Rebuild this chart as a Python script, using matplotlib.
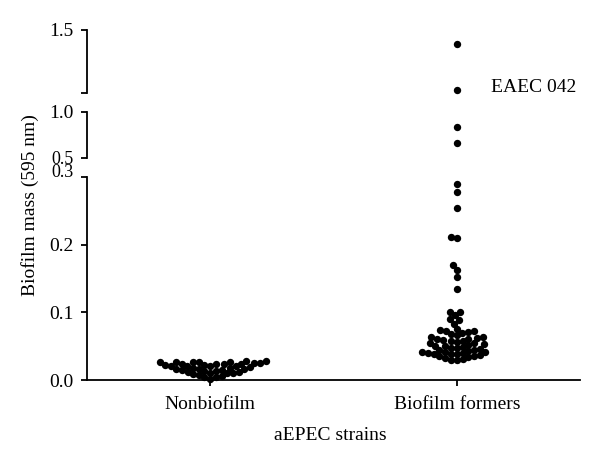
#!/usr/bin/env python3
"""Biofilm mass of aEPEC strains, dot plot on a broken y axis."""

import matplotlib
matplotlib.use("Agg")
import matplotlib.pyplot as plt
import numpy as np

plt.rcParams["font.family"] = ["Liberation Serif", "DejaVu Serif"]
plt.rcParams["font.size"] = 14

CATEGORIES = ["Nonbiofilm", "Biofilm formers"]
NONBIOFILM = [
    0.0015, 0.004, 0.005, 0.006, 0.008, 0.009, 0.010, 0.010, 0.011, 0.012,
    0.012, 0.013, 0.014, 0.015, 0.015, 0.016, 0.016, 0.017, 0.018, 0.018,
    0.019, 0.020, 0.020, 0.021, 0.021, 0.022, 0.022, 0.023, 0.023, 0.024,
    0.024, 0.025, 0.025, 0.026, 0.026, 0.026, 0.027, 0.027, 0.028, 0.028,
]
BIOFILM_FORMERS = [
    0.029, 0.030, 0.031, 0.033, 0.034, 0.035, 0.036, 0.037, 0.038, 0.039,
    0.039, 0.040, 0.040, 0.041, 0.042, 0.042, 0.043, 0.044, 0.045, 0.046,
    0.047, 0.048, 0.049, 0.050, 0.051, 0.052, 0.053, 0.054, 0.055, 0.056,
    0.057, 0.058, 0.059, 0.060, 0.061, 0.062, 0.063, 0.064, 0.066, 0.068,
    0.070, 0.071, 0.072, 0.073, 0.074, 0.075, 0.083, 0.089, 0.090, 0.096,
    0.100, 0.101, 0.134, 0.152, 0.163, 0.170, 0.210, 0.211, 0.254, 0.278,
    0.290, 0.660, 0.840, 1.390,
]
EAEC_042 = 1.02

# (y range, ticks, tick labels, axes box in figure fractions)
SEGMENTS = [
    ((0.0, 0.3), [0.0, 0.1, 0.2, 0.3], ["0.0", "0.1", "0.2", "0.3"],
     [0.145, 0.188, 0.8217, 0.4338]),
    ((0.5, 1.0), [0.5, 1.0], ["0.5", "1.0"],
     [0.145, 0.6624, 0.8217, 0.0983]),
    ((1.0, 1.5), [1.0, 1.5], ["", "1.5"],
     [0.145, 0.8013, 0.8217, 0.1346]),
]

DOT_SIZE = 5.3      # marker diameter in points
MIN_GAP = 6.0       # centre distance in pixels (dots may touch a little)


def swarm_positions(ax, center, values, min_dist=MIN_GAP):
    """Beeswarm layout: place each point as close to the centre as it can go."""
    pts = ax.transData.transform([(center, v) for v in values])
    offsets = np.zeros(len(values))
    placed = []
    for i in np.argsort(pts[:, 1], kind="stable"):
        y = pts[i, 1]
        near = [(px, py) for px, py in placed if abs(py - y) < min_dist]
        cands = [0.0]
        for px, py in near:
            dx = np.sqrt(min_dist ** 2 - (py - y) ** 2)
            cands += [px - dx, px + dx]
        cands.sort(key=abs)
        for c in cands:
            if all((c - px) ** 2 + (y - py) ** 2 >= min_dist ** 2 - 1e-6
                   for px, py in near):
                break
        placed.append((c, y))
        offsets[i] = c
    x0 = ax.transData.transform((0, 0))[0]
    x1 = ax.transData.transform((1, 0))[0]
    return center + offsets / (x1 - x0)


fig = plt.figure(figsize=(6, 4.68), dpi=100)
axes = []
groups = [NONBIOFILM, BIOFILM_FORMERS + [EAEC_042]]
for (lo, hi), ticks, labels, box in SEGMENTS:
    ax = fig.add_axes(box)
    ax.set_xlim(-0.5, 1.5)
    ax.set_ylim(lo, hi)
    for pos, values in enumerate(groups):
        vals = [v for v in values if lo <= v < hi or v == hi == 1.5]
        if not vals:
            continue
        xs = swarm_positions(ax, pos, vals)
        ax.scatter(xs, vals, s=DOT_SIZE ** 2, color="black", linewidths=0,
                   clip_on=False, zorder=3)
    ax.set_yticks(ticks)
    ax.set_yticklabels(labels)
    ax.patch.set_visible(False)
    for side in ("top", "right"):
        ax.spines[side].set_visible(False)
    ax.spines["left"].set_linewidth(1.3)
    ax.spines["bottom"].set_linewidth(1.3)
    ax.tick_params(direction="out", length=4.5, width=1.3, pad=5,
                   labelsize=14)
    axes.append(ax)

lower, middle, top = axes
for ax in (middle, top):
    ax.spines["bottom"].set_visible(False)
    ax.tick_params(axis="x", bottom=False, labelbottom=False)

lower.set_xticks([0, 1])
lower.set_xticklabels(CATEGORIES)
lower.tick_params(axis="x", pad=7)
# keep the crowded 0.3 / 0.5 labels apart, as in the original
lab03 = lower.get_yticklabels()[-1]
lab03.set_va("baseline")
lab03.set_fontsize(13)
lab05 = middle.get_yticklabels()[0]
lab05.set_va("center_baseline")
lab05.set_fontsize(13)

top.annotate("EAEC 042", xy=(1, EAEC_042), xytext=(25, 2),
             textcoords="offset points", va="center", ha="left",
             annotation_clip=False)

fig.text(0.551, 0.07, "aEPEC strains", ha="center", va="center")
fig.text(0.05, 0.562, "Biofilm mass (595 nm)", rotation=90,
         ha="center", va="center")

fig.savefig("out.png", dpi=100)
plt.close(fig)
